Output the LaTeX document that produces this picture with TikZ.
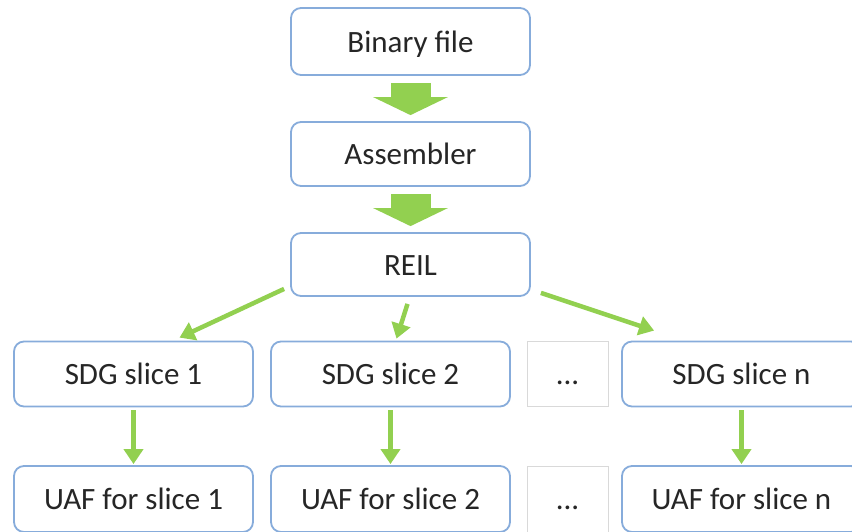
\documentclass[tikz,border=0pt]{standalone}
\usepackage{fontspec}
\setmainfont{Carlito}
\usetikzlibrary{arrows.meta}

\definecolor{boxblue}{RGB}{135,172,219}
\definecolor{arrgreen}{RGB}{146,208,80}
\definecolor{txtgray}{RGB}{38,38,38}
\definecolor{dotgray}{RGB}{217,217,217}

\tikzset{
    stage/.style={draw=boxblue, line width=1.8pt, fill=white, rounded corners=10pt,
        minimum width=239pt, minimum height=65pt, inner sep=0pt,
        text height=24pt, text depth=3pt,
        text=txtgray, font=\fontsize{31}{36}\selectfont},
    dotsbox/.style={draw=dotgray, line width=0.8pt, fill=white,
        minimum width=81pt, minimum height=65pt, inner sep=0pt,
        text height=24pt, text depth=3pt,
        text=txtgray, font=\fontsize{31}{36}\selectfont},
    fatarrow/.style={draw=arrgreen, line width=40pt,
        -{Triangle[width=74pt,length=18pt]}},
    thinarrow/.style={draw=arrgreen, line width=4.5pt,
        -{Triangle[width=19pt,length=15pt]}}
}

\begin{document}
\begin{tikzpicture}[x=1pt, y=-1pt]
    \useasboundingbox (0,0) rectangle (852,531);
    \clip (0,0) rectangle (852,531);

    % pipeline
    \node [stage, minimum height=67pt] (bin) at (410.5, 41.5) {Binary file};
    \node [stage, minimum height=64pt] (asm) at (410.5, 154) {Assembler};
    \node [stage, minimum height=63pt] (reil) at (410.5, 264.5) {REIL};
    \draw [fatarrow] ([yshift=-7pt]bin.south) -- ([yshift=6pt]asm.north);
    \draw [fatarrow] ([yshift=-7pt]asm.south) -- ([yshift=6pt]reil.north);

    % one column per slice
    \foreach \k/\x in {1/133.5, 2/390.5, n/741.5} {
        \node [stage] (sdg\k) at (\x, 374) {SDG slice \k};
        \node [stage, minimum height=66pt] (uaf\k) at (\x, 499) {UAF for slice \k};
        \draw [thinarrow] ([yshift=-3pt]sdg\k.south) -- ([yshift=1pt]uaf\k.north);
    }
    \node [dotsbox] (sdgdots) at (567.5, 373.5) {...};
    \node [dotsbox, minimum height=66pt] (uafdots) at (567.5, 499) {...};

    \draw [thinarrow] ([xshift=-6pt,yshift=8pt]reil.south west) -- ([xshift=46pt,yshift=3pt]sdg1.north);
    \draw [thinarrow] ([xshift=-3pt,yshift=-7pt]reil.south) -- ([xshift=6pt,yshift=2pt]sdg2.north);
    \draw [thinarrow] ([xshift=10pt,yshift=4pt]reil.south east) -- ([xshift=33pt,yshift=10pt]sdgn.north west);
\end{tikzpicture}
\end{document}
